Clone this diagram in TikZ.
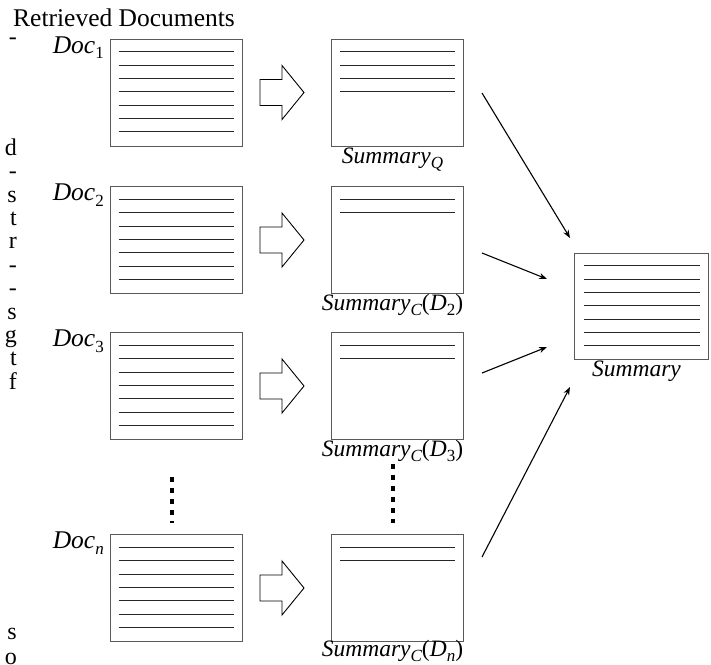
\documentclass[tikz,border=0pt]{standalone}
\usepackage{fontspec}
\setmainfont{Liberation Serif}
\usetikzlibrary{arrows.meta}
\newcommand\mysub[1]{\raisebox{-0.22em}{\fontsize{17}{18}\selectfont #1}}
\begin{document}
\begin{tikzpicture}[x=1pt,y=-1pt]
\tikzset{
 box/.style={draw=black!65, line width=1pt, minimum width=132pt, minimum height=107pt, inner sep=0pt},
 rule/.style={line width=0.9pt, black!85},
 lbl/.style={inner sep=0pt, font=\fontsize{23.5}{26}\selectfont\itshape},
 doclbl/.style={inner sep=0pt, font=\fontsize{25.5}{28}\selectfont\itshape},
 connect/.style={-{Stealth[length=8pt,width=6pt]}, line width=1.1pt},
 blk/.style={draw, line width=0.9pt, line join=miter},
 vdots/.style={line width=4.5pt, dash pattern=on 4.5pt off 6.5pt},
 frag/.style={inner sep=0pt, anchor=base east, font=\fontsize{24}{26}\selectfont}
}
\useasboundingbox (0,0) rectangle (711,664);

% fragments of the neighbouring text column
\foreach \t/\y [count=\k] in {-/44, d/155.2, -/178.6, s/202, t/225.4, r/248.8, -/272.2, -/295.6, s/319, g/342.4, t/365.8, f/389.2, s/639, o/664}
  \node[frag] (frag\k) at (17,\y) {\t};

% title
\node[inner sep=0pt, anchor=base west, font=\fontsize{25.5}{28}\selectfont] (title) at (13,26) {Retrieved Documents};

% documents
\foreach \c/\n [count=\k] in {92.5/\upshape 1, 240/\upshape 2, 386/\upshape 3, 588/n} {
  \node[box] (d\k) at (176,\c) {};
  \foreach \i in {1,...,7}
    \draw[rule] ([xshift=9pt, yshift=-13.33pt*\i]d\k.north west) -- ([xshift=-9pt, yshift=-13.33pt*\i]d\k.north east);
  \node[doclbl, anchor=base east] (ld\k) at (104,\c-39.5) {Doc\mysub{\n}};
  \node[box] (s\k) at (397.5,\c) {};
  \draw[blk] (260,\c-13) -- (282,\c-13) -- (282,\c-27) -- (304,\c) -- (282,\c+27) -- (282,\c+13) -- (260,\c+13) -- cycle;
}

% summary lines
\foreach \i in {1,...,4}
  \draw[rule] ([xshift=9pt, yshift=-13.33pt*\i]s1.north west) -- ([xshift=-9pt, yshift=-13.33pt*\i]s1.north east);
\foreach \k in {2,3,4}
  \foreach \i in {1,2}
    \draw[rule] ([xshift=9pt, yshift=-13.33pt*\i]s\k.north west) -- ([xshift=-9pt, yshift=-13.33pt*\i]s\k.north east);

\node[lbl, anchor=base] (ls1) at (392.5,163.5) {Summary\mysub{Q}};
\node[lbl, anchor=base] (ls2) at (392.5,310) {Summary\mysub{C}{\upshape(}D\mysub{\upshape 2}{\upshape)}};
\node[lbl, anchor=base] (ls3) at (392.5,456) {Summary\mysub{C}{\upshape(}D\mysub{\upshape 3}{\upshape)}};
\node[lbl, anchor=base] (ls4) at (392.5,656) {Summary\mysub{C}{\upshape(}D\mysub{n}{\upshape)}};

% vertical dots
\coordinate (dl1) at (172,477);
\coordinate (dl2) at (172,523);
\coordinate (dr1) at (393,464);
\coordinate (dr2) at (393,523);
\draw[vdots] (dl1) -- (dl2);
\draw[vdots] (dr1) -- (dr2);

% final summary
\node[box, minimum width=134pt, minimum height=106pt] (fs) at (641,306) {};
\foreach \i in {1,...,7}
  \draw[rule] ([xshift=10pt, yshift=-13.33pt*\i]fs.north west) -- ([xshift=-9pt, yshift=-13.33pt*\i]fs.north east);
\node[lbl, anchor=base] (lfs) at (636.5,376.5) {Summary};

% connectors
\coordinate (a1) at (482,93);   \coordinate (b1) at (570,238);
\coordinate (a2) at (482,253);  \coordinate (b2) at (547,279);
\coordinate (a3) at (482,373);  \coordinate (b3) at (547,347);
\coordinate (a4) at (482,557);  \coordinate (b4) at (570,387);
\foreach \k in {1,...,4}
  \draw[connect] (a\k) -- (b\k);
\end{tikzpicture}
\end{document}
